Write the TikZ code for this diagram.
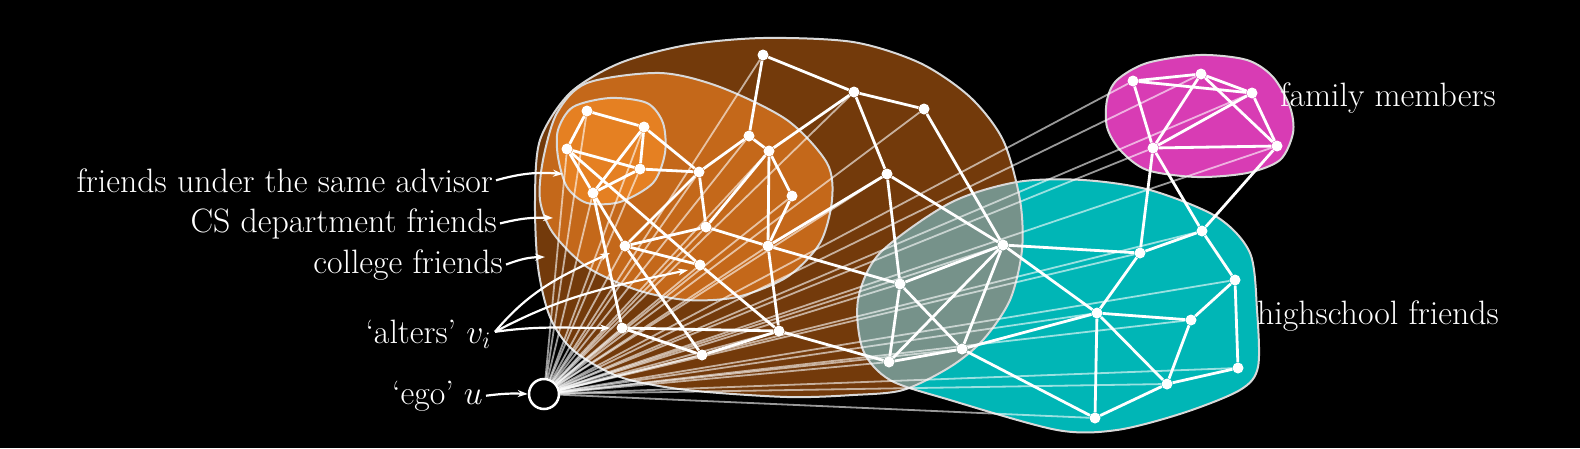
\RequirePackage{fix-cm}
\documentclass[tikz,border=0pt]{standalone}
\usepackage{amsmath}
\usepackage{tikz,xcolor}
\usetikzlibrary{arrows.meta}

\definecolor{collegebrown}{RGB}{115,58,11}
\definecolor{csorange}{RGB}{196,104,26}
\definecolor{advorange}{RGB}{229,128,34}
\definecolor{hsteal}{RGB}{0,182,182}
\definecolor{overlapgray}{RGB}{118,146,138}
\definecolor{familypink}{RGB}{216,60,180}

% outlines of the friend groups
\newcommand{\collegeshape}{plot[smooth cycle] coordinates {(763,-38) (853,-42) (920,-63) (970,-97) (1003,-140) (1020,-200) (1022,-250) (1010,-300) (983,-340) (950,-367) (903,-390) (853,-395) (787,-397) (687,-390) (620,-377) (573,-350) (550,-317) (538,-267) (535,-200) (540,-140) (570,-93) (620,-63) (687,-45)}}
\newcommand{\csshape}{plot[smooth cycle] coordinates {(587,-83) (660,-73) (720,-87) (787,-120) (827,-163) (832,-200) (820,-243) (787,-277) (737,-297) (687,-300) (637,-290) (587,-267) (553,-233) (540,-200) (543,-160) (557,-113)}}
\newcommand{\advshape}{plot[smooth cycle] coordinates {(573,-107) (610,-98) (647,-103) (663,-123) (665,-153) (653,-183) (620,-202) (587,-203) (567,-187) (558,-157) (558,-130)}}
\newcommand{\hsshape}{plot[smooth cycle] coordinates {(950,-203) (1017,-182) (1083,-180) (1150,-190) (1217,-217) (1250,-253) (1257,-310) (1258,-367) (1240,-390) (1183,-413) (1117,-430) (1057,-430) (950,-400) (890,-380) (863,-350) (858,-300) (880,-253)}}
\newcommand{\familyshape}{plot[smooth cycle] coordinates {(1117,-80) (1147,-63) (1200,-55) (1247,-60) (1273,-77) (1290,-107) (1293,-133) (1280,-160) (1247,-173) (1197,-177) (1147,-170) (1120,-150) (1107,-127) (1107,-100)}}

\tikzset{
  alter/.style={circle, fill=white, inner sep=0pt, minimum size=11pt},
  tie/.style={white, line width=2.8pt},
  spoke/.style={white, opacity=0.6, line width=1.8pt},
  groupline/.style={draw=white!85!black, line width=2pt},
  pointer/.style={white, line width=2.2pt, -{Stealth[length=10pt,width=7pt]}},
  lab/.style={text=white, font=\fontsize{33.8}{40}\selectfont, inner sep=0pt}
}

\begin{document}
\begin{tikzpicture}[x=1pt, y=1pt]
  \useasboundingbox (0,0) rectangle (1580,-448);
  \fill[black] (0,0) rectangle (1580,-448);

  % Draw the groups
  \fill[collegebrown] \collegeshape;
  \fill[hsteal] \hsshape;
  \begin{scope}
    \clip \collegeshape;
    \fill[overlapgray] \hsshape;
  \end{scope}
  \fill[csorange] \csshape;
  \fill[advorange] \advshape;
  \fill[familypink] \familyshape;
  \draw[groupline] \collegeshape;
  \draw[groupline] \hsshape;
  \draw[groupline] \csshape;
  \draw[groupline] \advshape;
  \draw[groupline] \familyshape;

  % Draw the alters
  \foreach \n/\x/\y in {a1/587/111, a2/644/127, a3/567/149, a4/640/169, a5/593/193,
      c1/749/136, c2/769/151, c3/699/172, c4/792/196, c5/706/227, c6/625/246, c7/768/246, c8/700/265,
      k1/763/55, k2/854/92, k3/924/109, k4/887/174, k5/622/328, k6/779/331, k7/702/355,
      h1/1003/245, h2/900/284, h3/962/349, h4/889/362, h5/1140/253, h6/1202/231, h7/1235/280,
      h8/1097/313, h9/1191/320, h10/1238/368, h11/1167/384, h12/1095/418,
      f1/1133/81, f2/1201/74, f3/1252/93, f4/1153/148, f5/1277/146}
    \node[alter] (\n) at (\x,-\y) {};

  % Draw the ego
  \node[circle, draw=white, fill=black, line width=2.5pt, minimum size=30pt] (ego) at (544,-394) {};

  % Draw the spokes from the ego
  \foreach \n in {a1,a2,a3,a4,a5,c1,c2,c3,c4,c5,c6,c7,c8,k1,k2,k3,k4,k5,k6,k7,
      h1,h2,h3,h4,h5,h6,h7,h8,h9,h10,h11,h12,f1,f2,f3,f4,f5}
    \draw[spoke] (ego) -- (\n);

  % Draw the ties between alters
  \foreach \s/\t in {a1/a2, a1/a3, a2/a4, a2/a5, a2/c3, a3/a4, a3/a5, a3/c8, a4/a5, a4/c3, a5/c6, a5/k5,
      c1/k1, c1/c2, c1/c3, c2/k2, c2/c7, c2/c4, c2/c5, c3/c5, c3/c6, c4/c7, c5/c6, c5/c7,
      c6/c8, c6/k7, c7/k6, c7/k4, c7/h2, c8/k6,
      k1/k2, k2/k3, k2/k4, k3/h1, k4/h1, k4/h2, k5/k6, k5/k7, k6/k7, k6/h4,
      h1/h2, h1/h3, h1/h4, h1/h5, h1/h8, h2/h3, h2/h4, h3/h4, h3/h8, h3/h12,
      h5/h6, h5/h8, h5/f4, h6/f4, h6/f5, h6/h7, h7/h9, h7/h10, h8/h9, h8/h11, h8/h12,
      h9/h11, h10/h11, h11/h12,
      f1/f2, f1/f3, f1/f4, f2/f3, f2/f4, f2/f5, f3/f4, f3/f5, f4/f5}
    \draw[tie] (\s) -- (\t);

  % Labels
  \node[lab, anchor=base east] (advlab) at (493,-192) {friends under the same advisor};
  \node[lab, anchor=base east] (cslab) at (497,-232) {CS department friends};
  \node[lab, anchor=base east] (collab) at (503,-273) {college friends};
  \node[lab, anchor=base east] (altlab) at (491,-343) {`alters' $v_i$};
  \node[lab, anchor=base east] (egolab) at (483,-404) {`ego' $u$};
  \node[lab, anchor=base west] (famlab) at (1280,-106) {family members};
  \node[lab, anchor=base west] (hslab) at (1257,-324) {highschool friends};

  % Arrow tips
  \coordinate (advtip) at (563,-174);
  \coordinate (cstip) at (553,-218);
  \coordinate (coltip) at (545,-257);
  \coordinate (alttip1) at (610,-253);
  \coordinate (alttip2) at (688,-270);
  \coordinate (alttip3) at (610,-328);
  \coordinate (egotip) at (ego.west);

  \draw[pointer] ([xshift=3pt]advlab.east) to[bend left=10] (advtip);
  \draw[pointer] ([xshift=3pt]cslab.east) to[bend left=8] (cstip);
  \draw[pointer] ([xshift=3pt]collab.east) to[bend left=10] (coltip);
  \draw[pointer] ([xshift=4pt,yshift=2pt]altlab.east) to[out=50, in=205] (alttip1);
  \draw[pointer] ([xshift=4pt,yshift=2pt]altlab.east) to[out=28, in=192] (alttip2);
  \draw[pointer] ([xshift=4pt,yshift=2pt]altlab.east) to[out=8, in=180] (alttip3);
  \draw[pointer] ([xshift=3pt]egolab.east) to[bend left=5] (egotip);
\end{tikzpicture}
\end{document}
